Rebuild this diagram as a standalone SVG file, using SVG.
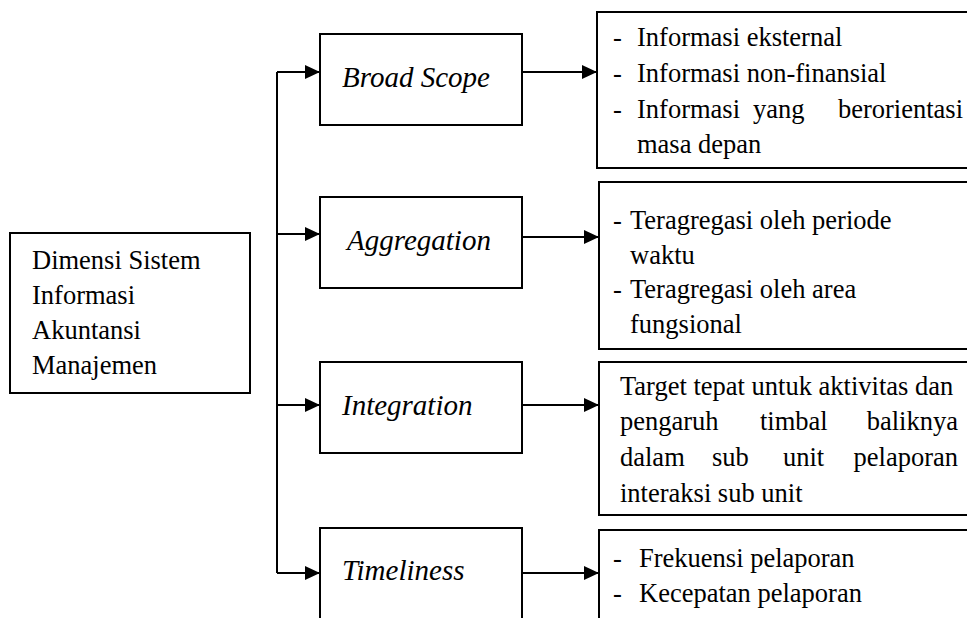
<svg xmlns="http://www.w3.org/2000/svg" width="967" height="618" viewBox="0 0 967 618">
<defs>
<marker id="ah" markerWidth="16" markerHeight="14" refX="15" refY="7" orient="auto" markerUnits="userSpaceOnUse">
<path d="M0,0 L15,7 L0,14 Z" fill="#000"/>
</marker>
<style>
.box{fill:#fff;stroke:#000;stroke-width:2}
.t{font-family:"Liberation Serif","Times New Roman",serif;font-size:26.5px;fill:#000}
.i{font-family:"Liberation Serif","Times New Roman",serif;font-size:29px;font-style:italic;fill:#000}
.c{fill:none;stroke:#000;stroke-width:2}
</style>
</defs>
<rect width="967" height="618" fill="#fff"/>
<g id="connectors">
<path class="c" d="M277,72 V573"/>
<path class="c" d="M277,72 H320" marker-end="url(#ah)"/>
<path class="c" d="M277,234 H320" marker-end="url(#ah)"/>
<path class="c" d="M277,405 H320" marker-end="url(#ah)"/>
<path class="c" d="M277,573 H320" marker-end="url(#ah)"/>
<path class="c" d="M522,72 H597" marker-end="url(#ah)"/>
<path class="c" d="M522,237 H599" marker-end="url(#ah)"/>
<path class="c" d="M522,405 H599" marker-end="url(#ah)"/>
<path class="c" d="M522,573 H599" marker-end="url(#ah)"/>
</g>
<g id="root">
<rect class="box" x="10" y="233" width="240" height="160"/>
<text class="t" x="32" y="269">Dimensi Sistem</text>
<text class="t" x="32" y="304">Informasi</text>
<text class="t" x="32" y="339">Akuntansi</text>
<text class="t" x="32" y="374">Manajemen</text>
</g>
<g id="broad-scope">
<rect class="box" x="320" y="34" width="202" height="91"/>
<text class="i" x="342" y="87">Broad Scope</text>
</g>
<g id="aggregation">
<rect class="box" x="320" y="197" width="202" height="91"/>
<text class="i" x="347" y="250">Aggregation</text>
</g>
<g id="integration">
<rect class="box" x="320" y="362" width="202" height="91"/>
<text class="i" x="342" y="415">Integration</text>
</g>
<g id="timeliness">
<rect class="box" x="320" y="528" width="202" height="110"/>
<text class="i" x="342" y="580">Timeliness</text>
</g>
<g id="broad-scope-detail">
<rect class="box" x="597" y="12" width="380" height="156"/>
<text class="t" x="613" y="46">-</text>
<text class="t" x="637" y="46">Informasi eksternal</text>
<text class="t" x="613" y="82">-</text>
<text class="t" x="637" y="82">Informasi non-finansial</text>
<text class="t" x="613" y="118">-</text>
<text class="t" x="637" y="118">Informasi</text>
<text class="t" x="753" y="118">yang</text>
<text class="t" x="963" y="118" text-anchor="end">berorientasi</text>
<text class="t" x="637" y="153">masa depan</text>
</g>
<g id="aggregation-detail">
<rect class="box" x="599" y="182" width="380" height="167"/>
<text class="t" x="613" y="229">-</text>
<text class="t" x="630" y="229">Teragregasi oleh periode</text>
<text class="t" x="630" y="264">waktu</text>
<text class="t" x="613" y="298">-</text>
<text class="t" x="630" y="298">Teragregasi oleh area</text>
<text class="t" x="630" y="333">fungsional</text>
</g>
<g id="integration-detail">
<rect class="box" x="599" y="362" width="380" height="153"/>
<text class="t" x="620" y="395">Target tepat untuk aktivitas dan</text>
<text class="t" x="620" y="430">pengaruh</text>
<text class="t" x="760" y="430">timbal</text>
<text class="t" x="958" y="430" text-anchor="end">baliknya</text>
<text class="t" x="620" y="466">dalam</text>
<text class="t" x="712" y="466">sub</text>
<text class="t" x="783" y="466">unit</text>
<text class="t" x="958" y="466" text-anchor="end">pelaporan</text>
<text class="t" x="620" y="502">interaksi sub unit</text>
</g>
<g id="timeliness-detail">
<rect class="box" x="599" y="530" width="380" height="110"/>
<text class="t" x="613" y="567">-</text>
<text class="t" x="639" y="567">Frekuensi pelaporan</text>
<text class="t" x="613" y="602">-</text>
<text class="t" x="639" y="602">Kecepatan pelaporan</text>
</g>
</svg>
